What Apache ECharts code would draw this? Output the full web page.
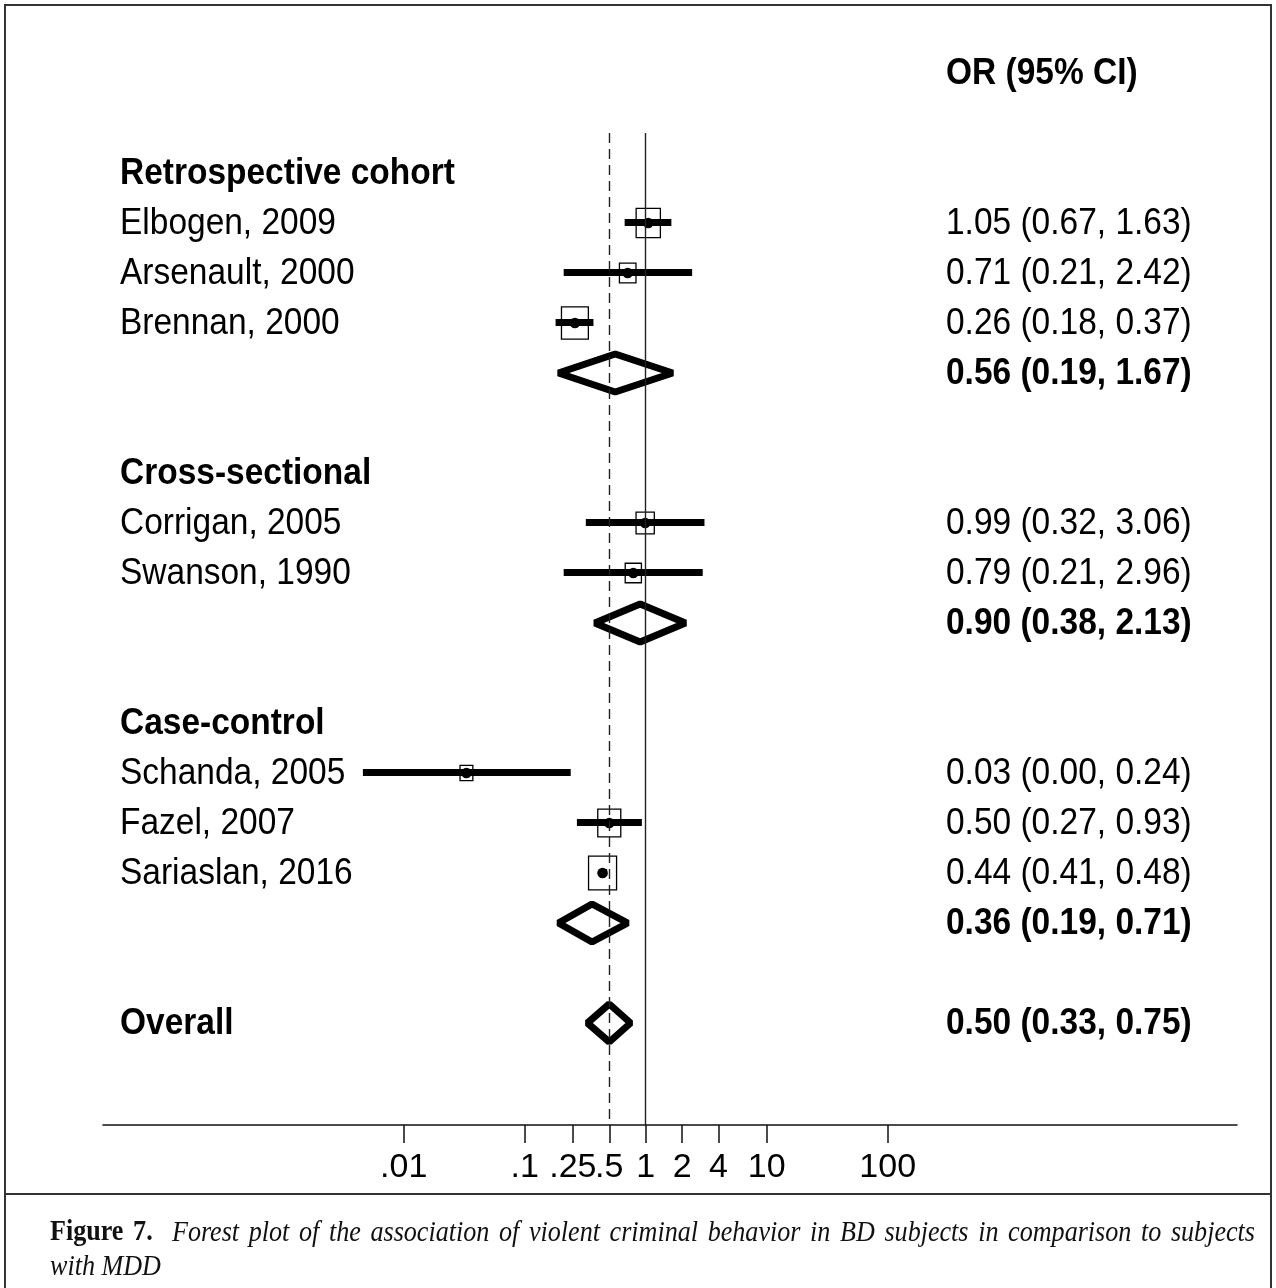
<!DOCTYPE html>
<html><head><meta charset="utf-8">
<script src="https://cdn.jsdelivr.net/npm/echarts@6/dist/echarts.min.js"></script>
<style>html,body{margin:0;padding:0;background:#fff}#c{width:1276px;height:1288px}</style>
</head><body><div id="c"></div>
<script>
// ---------------- data ----------------
const headerText = "OR (95% CI)";
const groupNames = ["Retrospective cohort", "Cross-sectional", "Case-control"];
const groupRows = [0, 6, 11];

const studyNames = ["Elbogen, 2009", "Arsenault, 2000", "Brennan, 2000", "Corrigan, 2005", "Swanson, 1990", "Schanda, 2005", "Fazel, 2007", "Sariaslan, 2016"];
const studyRows = [1, 2, 3, 7, 8, 12, 13, 14];
const studyOR = [1.05, 0.71, 0.26, 0.99, 0.79, 0.033, 0.50, 0.44];
const studyLo = [0.67, 0.21, 0.18, 0.32, 0.21, 0.0046, 0.27, 0.41];
const studyHi = [1.63, 2.42, 0.37, 3.06, 2.96, 0.24, 0.93, 0.48];
const studyWeight = [16.1, 7.5, 19.8, 9.1, 7.2, 4.5, 14.5, 21.5];
const studyText = ["1.05 (0.67, 1.63)", "0.71 (0.21, 2.42)", "0.26 (0.18, 0.37)", "0.99 (0.32, 3.06)", "0.79 (0.21, 2.96)", "0.03 (0.00, 0.24)", "0.50 (0.27, 0.93)", "0.44 (0.41, 0.48)"];

const pooledNames = ["", "", "", "Overall"];
const pooledRows = [4, 9, 15, 17];
const pooledOR = [0.56, 0.90, 0.36, 0.50];
const pooledLo = [0.19, 0.38, 0.19, 0.33];
const pooledHi = [1.67, 2.13, 0.71, 0.75];
const pooledText = ["0.56 (0.19, 1.67)", "0.90 (0.38, 2.13)", "0.36 (0.19, 0.71)", "0.50 (0.33, 0.75)"];
const overallOR = 0.50;

const tickValues = [0.01, 0.1, 0.25, 0.5, 1, 2, 4, 10, 100];
const tickLabels = [".01", ".1", ".25", ".5", "1", "2", "4", "10", "100"];

const captionLabel = "Figure 7.";
const captionLines = ["Forest plot of the association of violent criminal behavior in BD subjects in comparison to subjects", "with MDD"];

// ---------------- layout / style ----------------
const W = 1276, H = 1288;
const SANS = '"Liberation Sans", Arial, Helvetica, sans-serif';
const SERIF = '"Liberation Serif", "Times New Roman", serif';
const FS = 36, FS_SX = 0.93;
const LEFT_TEXT_X = 120, RIGHT_TEXT_X = 946;
const BOX_K = 43.8, BOX_ASPECT = 1.2;
const DIAMOND_HALF = 19;
const L10 = Math.log10;

const xMin = (103 - 645.7) / 121, xMax = (1237 - 645.7) / 121;

// text items
const textItems = [];
textItems.push({row: -2, text: headerText, bold: true, x: RIGHT_TEXT_X});
groupNames.forEach((n, i) => textItems.push({row: groupRows[i], text: n, bold: true, x: LEFT_TEXT_X}));
studyNames.forEach((n, i) => {
  textItems.push({row: studyRows[i], text: n, bold: false, x: LEFT_TEXT_X});
  textItems.push({row: studyRows[i], text: studyText[i], bold: false, x: RIGHT_TEXT_X});
});
pooledNames.forEach((n, i) => {
  if (n) textItems.push({row: pooledRows[i], text: n, bold: true, x: LEFT_TEXT_X});
  textItems.push({row: pooledRows[i], text: pooledText[i], bold: true, x: RIGHT_TEXT_X});
});

const studyData = studyNames.map((n, i) => [L10(studyOR[i]), studyRows[i], L10(studyLo[i]), L10(studyHi[i]), studyWeight[i]]);
const pooledData = pooledNames.map((n, i) => [L10(pooledOR[i]), pooledRows[i], L10(pooledLo[i]), L10(pooledHi[i])]);

function renderStudy(params, api) {
  const c = api.coord([api.value(0), api.value(1)]);
  const lo = api.coord([api.value(2), api.value(1)]);
  const hi = api.coord([api.value(3), api.value(1)]);
  const bw = Math.sqrt(api.value(4) * BOX_K / BOX_ASPECT), bh = bw * BOX_ASPECT;
  return {type: 'group', children: [
    {type: 'line', shape: {x1: lo[0], y1: lo[1] - 0.5, x2: hi[0], y2: hi[1] - 0.5}, style: {stroke: '#000', lineWidth: 7}},
    {type: 'rect', shape: {x: c[0] - bw / 2, y: c[1] - bh / 2, width: bw, height: bh}, style: {stroke: '#000', fill: 'none', lineWidth: 1.3}},
    {type: 'circle', shape: {cx: c[0], cy: c[1], r: 5.3}, style: {fill: '#000'}}
  ]};
}
function renderPooled(params, api) {
  const c = api.coord([api.value(0), api.value(1)]);
  const lo = api.coord([api.value(2), api.value(1)]);
  const hi = api.coord([api.value(3), api.value(1)]);
  return {type: 'polygon', shape: {points: [[lo[0], c[1]], [c[0], c[1] - DIAMOND_HALF], [hi[0], c[1]], [c[0], c[1] + DIAMOND_HALF]]},
    style: {stroke: '#000', fill: 'none', lineWidth: 7, lineJoin: 'bevel'}};
}
function renderText(params, api) {
  const t = textItems[params.dataIndex];
  const p = api.coord([0, api.value(1)]);
  return {type: 'text', x: t.x, y: p[1] + 1, scaleX: FS_SX, style: {text: t.text, fill: '#000', align: 'left', verticalAlign: 'middle',
    font: (t.bold ? 'bold ' : '') + FS + 'px ' + SANS}};
}

// caption (justified first line)
const mctx = document.createElement('canvas').getContext('2d');
const CAP_FS = 29, CAP_SX = 0.9;
const capBold = 'bold ' + CAP_FS + 'px ' + SERIF, capIt = 'italic ' + CAP_FS + 'px ' + SERIF;
function meas(t, f) { mctx.font = f; return mctx.measureText(t).width * CAP_SX; }
const graphics = [];
graphics.push({type: 'rect', shape: {x: 5, y: 5, width: 1266, height: 1300}, style: {stroke: '#333', fill: 'none', lineWidth: 2}, z: 10});
graphics.push({type: 'line', shape: {x1: 5, y1: 1194, x2: 1271, y2: 1194}, style: {stroke: '#333', lineWidth: 2}, z: 10});
(function () {
  const x0 = 50, x1 = 1255, y1 = 1233, y2 = 1267;
  const labelToks = captionLabel.split(' ');
  const toks = labelToks.map(s => ({t: s, f: capBold}));
  captionLines[0].split(' ').forEach(s => toks.push({t: s, f: capIt}));
  const units = toks.map((tk, i) => (i === labelToks.length - 1) ? 2 : 1);
  const totalW = toks.reduce((a, tk) => a + meas(tk.t, tk.f), 0);
  let nUnits = 0; for (let i = 0; i < toks.length - 1; i++) nUnits += units[i];
  const gap = (x1 - x0 - totalW) / nUnits;
  let x = x0;
  toks.forEach((tk, i) => {
    graphics.push({type: 'text', x: x, y: y1, scaleX: CAP_SX, style: {text: tk.t, font: tk.f, fill: '#111', align: 'left', verticalAlign: 'middle'}});
    x += meas(tk.t, tk.f) + gap * units[i];
  });
  graphics.push({type: 'text', x: x0, y: y2, scaleX: CAP_SX, style: {text: captionLines[1], font: capIt, fill: '#111', align: 'left', verticalAlign: 'middle'}});
})();

const chart = echarts.init(document.getElementById('c'), null, {renderer: 'canvas', width: W, height: H});
chart.setOption({
  animation: false,
  backgroundColor: '#fff',
  grid: {left: 103, right: W - 1237, top: 133, bottom: H - 1125, containLabel: false},
  xAxis: {
    type: 'value', min: xMin, max: xMax, position: 'bottom',
    axisLine: {show: true, onZero: false, lineStyle: {color: '#111', width: 1.5}},
    axisTick: {show: true, customValues: tickValues.map(L10), length: 18, lineStyle: {color: '#111', width: 1.5}},
    axisLabel: {show: true, customValues: tickValues.map(L10), margin: 26, color: '#000', fontSize: 34, fontFamily: SANS,
      formatter: v => { const i = tickValues.findIndex(t => Math.abs(L10(t) - v) < 1e-6); return i >= 0 ? tickLabels[i] : ''; }},
    splitLine: {show: false}
  },
  yAxis: {type: 'value', inverse: true, min: -0.8, max: 19.04, show: false, splitLine: {show: false}},
  graphic: graphics,
  series: [
    {type: 'custom', name: 'studies', renderItem: renderStudy, data: studyData, clip: false, z: 3,
      markLine: {silent: true, symbol: 'none', label: {show: false},
        data: [
          {xAxis: 0, lineStyle: {color: '#222', width: 1.4, type: 'solid'}},
          {xAxis: L10(overallOR), lineStyle: {color: '#222', width: 1.4, type: [10, 6]}}
        ]}},
    {type: 'custom', name: 'pooled', renderItem: renderPooled, data: pooledData, clip: false, z: 3},
    {type: 'custom', name: 'text', renderItem: renderText, data: textItems.map(t => [0, t.row]), clip: false, z: 4}
  ]
});
</script></body></html>
